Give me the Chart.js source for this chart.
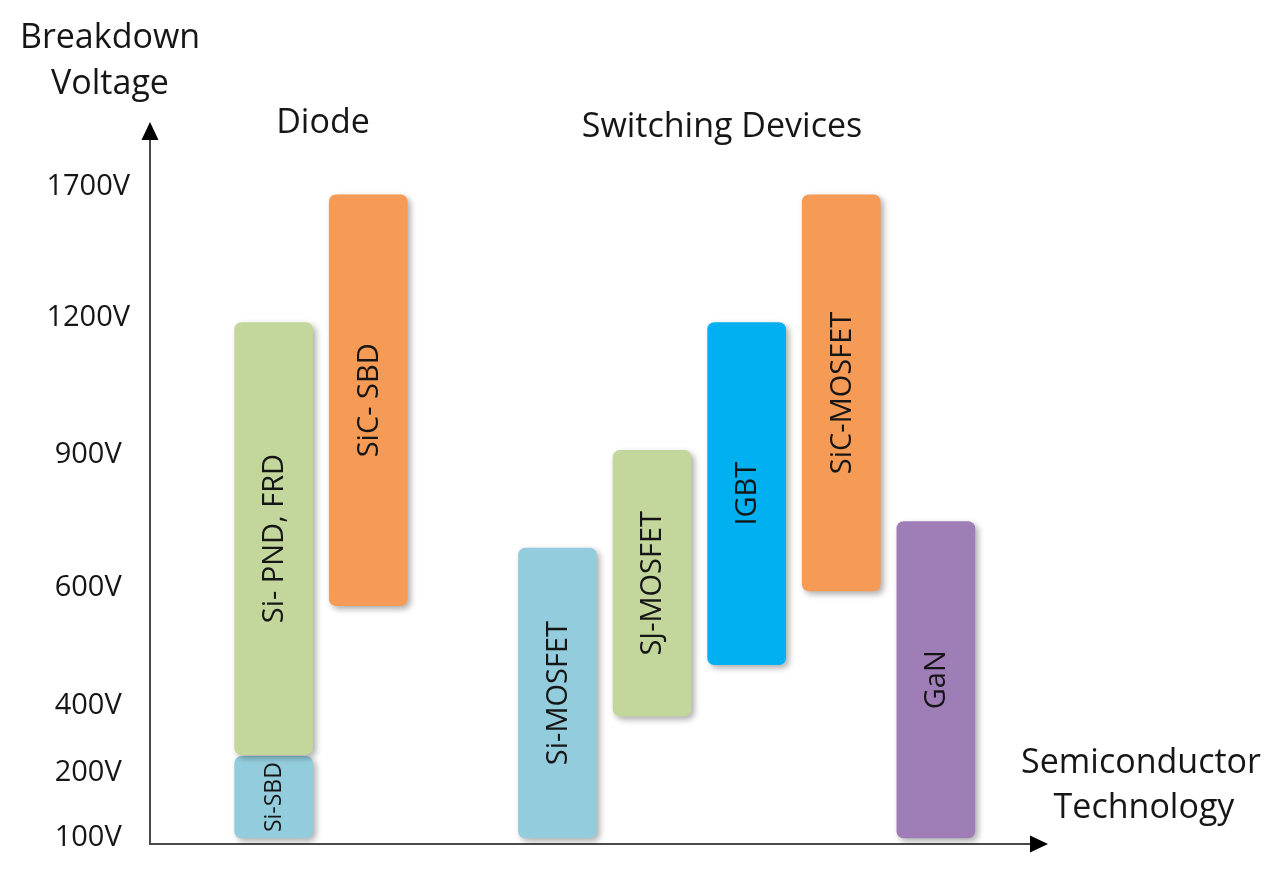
<!DOCTYPE html>
<html>
<head>
<meta charset="utf-8">
<title>Breakdown Voltage by Semiconductor Technology</title>
<script src="https://cdn.jsdelivr.net/npm/chart.js@4.4.1/dist/chart.umd.min.js"></script>
<style>
  html, body { margin: 0; padding: 0; background: #ffffff; }
  #wrap { width: 1280px; height: 872px; position: relative; }
</style>
</head>
<body>
<div id="wrap"><canvas id="chart"></canvas></div>
<script>
// ---------------- DATA ----------------
const columns      = ['Si diode', 'SiC diode', '', 'Si-MOSFET', 'SJ-MOSFET', 'IGBT', 'SiC-MOSFET', 'GaN'];
const barLabels    = ['Si- PND, FRD', 'SiC- SBD', '', 'Si-MOSFET', 'SJ-MOSFET', 'IGBT', 'SiC-MOSFET', 'GaN'];
const voltageLow   = [255, 570, null, 100, 370, 470, 595, 100];
const voltageHigh  = [1190, 1670, null, 690, 910, 1190, 1670, 750];
const sbdLabel     = 'Si-SBD';
const sbdColumn    = 'Si diode';
const sbdRange     = [100, 250];
const yTickVoltages = [100, 200, 400, 600, 900, 1200, 1700];
const yTitle       = ['Breakdown', 'Voltage'];
const xTitle       = ['Semiconductor', 'Technology'];
const groupTitles  = ['Diode', 'Switching Devices'];

// Schematic (non-uniform) voltage axis: voltage -> fraction of axis height
const axisBreakVoltages = [0, 100, 200, 400, 600, 900, 1200, 1700, 1880];
const axisBreakLevels   = [0, 0.0085, 0.1007, 0.1957, 0.3631, 0.5518, 0.7461, 0.9319, 1.0];

// ---------------- STYLE ----------------
const FONT = '"Open Sans", "Noto Sans", "DejaVu Sans", sans-serif';
const palette = {
  'Si diode': '#C3D69B', 'SiC diode': '#F69B55', 'Si-MOSFET': '#93CDDD',
  'SJ-MOSFET': '#C3D69B', 'IGBT': '#00B0F0', 'SiC-MOSFET': '#F69B55', 'GaN': '#9F7EB8',
  'Si-SBD': '#93CDDD'
};
const TEXT = '#161616';
const AXIS = '#4a4a4a';

// ---------------- CUSTOM SCALE ----------------
class SchematicScale extends Chart.LinearScale {
  static id = 'schematic';
  static defaults = {};
  buildTicks() {
    return yTickVoltages.map(v => ({ value: v }));
  }
  _toDecimal(v) {
    const V = axisBreakVoltages, L = axisBreakLevels;
    let i = 1;
    while (i < V.length - 1 && v > V[i]) i++;
    return L[i - 1] + (v - V[i - 1]) / (V[i] - V[i - 1]) * (L[i] - L[i - 1]);
  }
  getPixelForValue(v) {
    if (v === null || v === undefined || isNaN(v)) return NaN;
    return this.getPixelForDecimal(this._toDecimal(v));
  }
  getValueForPixel(p) {
    const d = this.getDecimalForPixel(p);
    const V = axisBreakVoltages, L = axisBreakLevels;
    let i = 1;
    while (i < L.length - 1 && d > L[i]) i++;
    return V[i - 1] + (d - L[i - 1]) / (L[i] - L[i - 1]) * (V[i] - V[i - 1]);
  }
}
Chart.register(SchematicScale);

// ---------------- DATASETS ----------------
const mainData = [];
columns.forEach((c, i) => {
  if (voltageLow[i] !== null) mainData.push({ x: i, y: [voltageLow[i], voltageHigh[i]], label: barLabels[i], key: c });
});
const sbdData = [{ x: columns.indexOf(sbdColumn), y: sbdRange, label: sbdLabel, key: sbdLabel }];

// ---------------- PLUGINS ----------------
const shadowPlugin = {
  id: 'barShadow',
  beforeDatasetsDraw(chart) {
    const c = chart.ctx;
    c.save();
    c.shadowColor = 'rgba(0,0,0,0.33)';
    c.shadowBlur = 6;
    c.shadowOffsetX = 3;
    c.shadowOffsetY = 3;
  },
  afterDatasetsDraw(chart) { chart.ctx.restore(); }
};

const barTextPlugin = {
  id: 'barText',
  afterDatasetsDraw(chart) {
    const ctx = chart.ctx;
    chart.data.datasets.forEach((ds, di) => {
      const meta = chart.getDatasetMeta(di);
      meta.data.forEach((el, i) => {
        const raw = ds.data[i];
        const p = el.getProps(['x', 'y', 'base'], true);
        ctx.save();
        ctx.translate(p.x, (p.y + p.base) / 2);
        ctx.rotate(-Math.PI / 2);
        ctx.font = ds.textSize + 'px ' + FONT;
        ctx.fillStyle = TEXT;
        ctx.textAlign = 'center';
        ctx.textBaseline = 'middle';
        ctx.fillText(raw.label, 0, 1);
        ctx.restore();
      });
    });
  }
};

const decorPlugin = {
  id: 'decor',
  afterDraw(chart) {
    const { ctx, chartArea: a } = chart;
    ctx.save();
    ctx.fillStyle = '#000';
    // y arrow
    ctx.beginPath();
    ctx.moveTo(a.left, a.top - 17);
    ctx.lineTo(a.left - 8.5, a.top + 1);
    ctx.lineTo(a.left + 8.5, a.top + 1);
    ctx.closePath();
    ctx.fill();
    // x arrow
    ctx.beginPath();
    ctx.moveTo(a.right + 17, a.bottom);
    ctx.lineTo(a.right - 1, a.bottom - 8.5);
    ctx.lineTo(a.right - 1, a.bottom + 8.5);
    ctx.closePath();
    ctx.fill();

    ctx.fillStyle = TEXT;
    ctx.textAlign = 'center';
    ctx.textBaseline = 'alphabetic';
    ctx.font = '34px ' + FONT;
    ctx.fillText(yTitle[0], 110, 48);
    ctx.fillText(yTitle[1], 110, 94);
    ctx.fillText(groupTitles[0], 323, 133);
    ctx.fillText(groupTitles[1], 722, 137);
    ctx.fillText(xTitle[0], 1141, 773);
    ctx.fillText(xTitle[1], 1144, 818);
    ctx.restore();
  }
};

// ---------------- CHART ----------------
const barStyle = {
  backgroundColor: c => palette[c.raw ? c.raw.key : ''] || '#ccc',
  borderRadius: 7,
  borderSkipped: false,
  borderWidth: 0,
  barThickness: 78,
  grouped: false
};

new Chart(document.getElementById('chart'), {
  type: 'bar',
  data: {
    datasets: [
      Object.assign({ label: 'Devices', data: mainData, textSize: 29 }, barStyle),
      Object.assign({ label: sbdLabel, data: sbdData, textSize: 23 }, barStyle)
    ]
  },
  options: {
    responsive: true,
    maintainAspectRatio: false,
    animation: false,
    events: [],
    layout: { padding: { top: 139, right: 249, bottom: 0, left: 0 } },
    plugins: {
      legend: { display: false },
      tooltip: { enabled: false },
      title: { display: false }
    },
    scales: {
      x: {
        type: 'linear',
        offset: false,
        bounds: 'data',
        min: -1.307,
        max: 8.006,
        grid: { display: false, drawTicks: false, offset: false },
        ticks: { display: false },
        border: { display: true, color: AXIS, width: 2 },
        afterFit: s => { s.height = 28; s.paddingLeft = 0; s.paddingRight = 0; }
      },
      y: {
        type: 'schematic',
        min: 0,
        max: 1880,
        grid: { display: false, drawTicks: false },
        border: { display: true, color: AXIS, width: 2 },
        ticks: {
          autoSkip: false,
          callback: v => v + 'V',
          font: { family: FONT, size: 29 },
          color: TEXT,
          crossAlign: 'center',
          padding: 20
        },
        afterFit: s => { s.width = 150; s.paddingTop = 0; s.paddingBottom = 0; }
      }
    }
  },
  plugins: [shadowPlugin, barTextPlugin, decorPlugin]
});
</script>
</body>
</html>
